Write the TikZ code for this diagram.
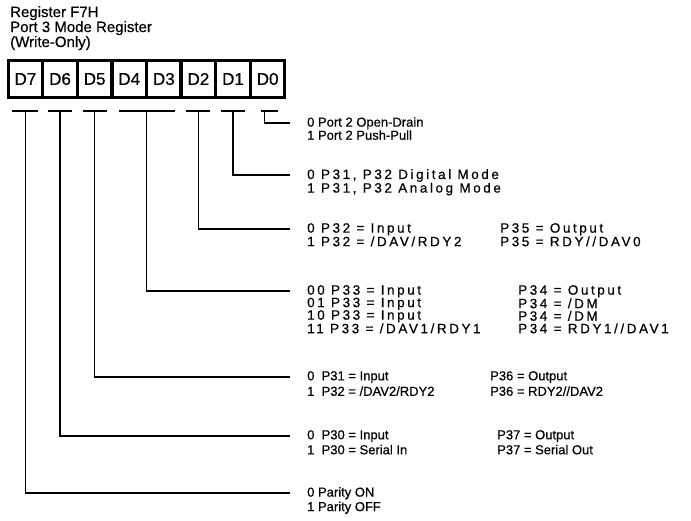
\documentclass[tikz,border=0pt]{standalone}
\usepackage{fontspec}
\setmainfont{Liberation Sans}[FakeBold=0.5]
\newfontfamily\widefont{Liberation Sans}[LetterSpace=19, FakeBold=0.5]
\usetikzlibrary{positioning, calc}
\tikzset{
  regtitle/.style={anchor=north west, align=left, inner sep=0pt, font=\fontsize{15}{13.5}\selectfont},
  bitcell/.style={rectangle, draw=black, line width=1.7pt, minimum width=32.9pt, minimum height=36pt, inner sep=0pt, font=\fontsize{17}{17}\selectfont},
  frame/.style={line width=2.8pt},
  wire/.style={line width=1.6pt},
  desc/.style={anchor=north west, align=left, inner sep=0pt, font=\fontsize{13}{11.5}\selectfont},
  wdesc/.style={desc, font=\widefont\fontsize{13.5}{12.5}\selectfont}
}

\begin{document}
\begin{tikzpicture}[x=1pt, y=-1pt]
  \useasboundingbox (0,0) rectangle (691,520);
  \node[regtitle] (title) at (10,6) {Register F7H\\Port 3 Mode Register\\(Write-Only)};

  % the eight bits of the register
  \node[bitcell] (d7) at (25.45,79) {D7};
  \node[bitcell, right=0pt of d7] (d6) {D6};
  \node[bitcell, right=0pt of d6] (d5) {D5};
  \node[bitcell, right=0pt of d5] (d4) {D4};
  \node[bitcell, right=0pt of d4] (d3) {D3};
  \node[bitcell, right=0pt of d3] (d2) {D2};
  \node[bitcell, right=0pt of d2] (d1) {D1};
  \node[bitcell, right=0pt of d1] (d0) {D0};
  \draw[frame] (d7.north west) rectangle (d0.south east);

  % bar under each field
  \coordinate (t7) at ($(d7.south)+(0,13)$);
  \coordinate (t6) at ($(d6.south)+(0,13)$);
  \coordinate (t5) at ($(d5.south)+(0,13)$);
  \coordinate (t43) at ($(d4.south east)+(0,13)$);
  \coordinate (t2) at ($(d2.south)+(0,13)$);
  \coordinate (t1) at ($(d1.south)+(0,13)$);
  \coordinate (t0) at ($(d0.south)+(-3,13)$);
  \draw[wire] ($(t7)+(-13,0)$) -- ($(t7)+(13,0)$);
  \draw[wire] ($(t6)+(-12,0)$) -- ($(t6)+(12,0)$);
  \draw[wire] ($(t5)+(-12,0)$) -- ($(t5)+(12,0)$);
  \draw[wire] ($(t43)+(-28,0)$) -- ($(t43)+(28,0)$);
  \draw[wire] ($(t2)+(-12,0)$) -- ($(t2)+(12,0)$);
  \draw[wire] ($(t1)+(-12,0)$) -- ($(t1)+(12,0)$);
  \draw[wire] ($(t0)+(-4,0)$) -- ($(t0)+(13,0)$);

  % ends of the leaders
  \coordinate (e0) at (290,123);
  \coordinate (e1) at (290,175);
  \coordinate (e2) at (290,229);
  \coordinate (e43) at (290,291);
  \coordinate (e5) at (290,377);
  \coordinate (e6) at (290,436);
  \coordinate (e7) at (290,493);

  \draw[wire] (t0) |- (e0);
  \draw[wire] (t1) |- (e1);
  \draw[wire] (t2) |- (e2);
  \draw[wire] (t43) |- (e43);
  \draw[wire] (t5) |- (e5);
  \draw[wire] (t6) |- (e6);
  \draw[wire] (t7) |- (e7);

  % what each field selects
  \node[desc] (pod) at (307,117) {0 Port 2 Open-Drain\\1 Port 2 Push-Pull};
  \node[wdesc] (mode) at (307,169) {0 P31, P32 Digital Mode\\1 P31, P32 Analog Mode};
  \node[wdesc] (p32) at (307,223) {0 P32 = Input\\1 P32 = /DAV/RDY2};
  \node[wdesc] (p35) at (500,223) {P35 = Output\\P35 = RDY//DAV0};
  \node[wdesc] (p33) at (307,285) {00 P33 = Input\\01 P33 = Input\\10 P33 = Input\\11 P33 = /DAV1/RDY1};
  \node[wdesc] (p34) at (518,285) {P34 = Output\\P34 = /DM\\P34 = /DM\\P34 = RDY1//DAV1};
  \node[desc, font=\fontsize{13}{15.5}\selectfont] (p31) at (307,371) {0~ P31 = Input\\1~ P32 = /DAV2/RDY2};
  \node[desc, font=\fontsize{13}{15.5}\selectfont] (p36) at (490,371) {P36 = Output\\P36 = RDY2//DAV2};
  \node[desc, font=\fontsize{13}{15}\selectfont] (p30) at (307,430) {0~ P30 = Input\\1~ P30 = Serial In};
  \node[desc, font=\fontsize{13}{15}\selectfont] (p37) at (497,430) {P37 = Output\\P37 = Serial Out};
  \node[desc, font=\fontsize{13}{14.5}\selectfont] (par) at (307,487) {0 Parity ON\\1 Parity OFF};
\end{tikzpicture}
\end{document}
